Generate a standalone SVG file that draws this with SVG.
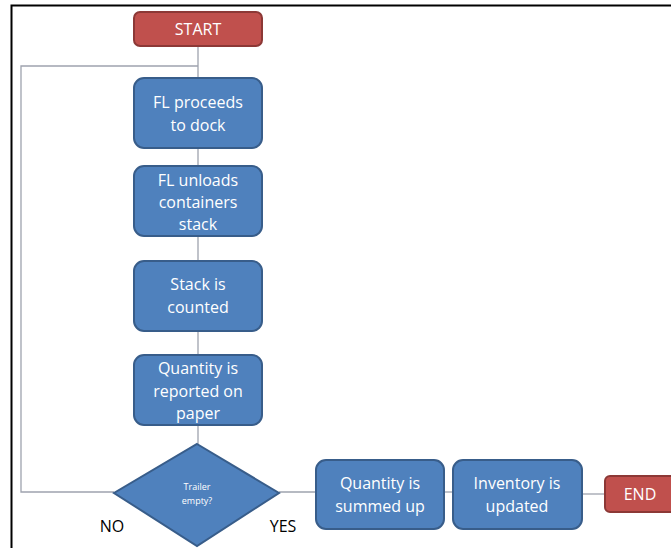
<svg xmlns="http://www.w3.org/2000/svg" width="671" height="548" viewBox="0 0 671 548">
<style>
.box{fill:#4F81BD;stroke:#385D8A;stroke-width:2}
.red{fill:#C0504D;stroke:#8C3836;stroke-width:2}
.t{font-family:"Open Sans","Liberation Sans",sans-serif;font-size:16px;fill:#fff;text-anchor:middle}
.s{font-family:"Open Sans","Liberation Sans",sans-serif;font-size:9px;fill:#fff;text-anchor:middle}
.lbl{font-family:"Open Sans","Liberation Sans",sans-serif;font-size:16px;fill:#000;text-anchor:middle}
.c{fill:none;stroke:#9EA3AE;stroke-width:1.3}
</style>
<rect width="671" height="548" fill="#fff"/>
<path d="M11.5,548 V5.5 H671" fill="none" stroke="#000" stroke-width="2"/>
<g id="connectors">
<path class="c" d="M198,46 V78"/>
<path class="c" d="M198,66 H21 V492 H114"/>
<path class="c" d="M198,148 V166"/>
<path class="c" d="M198,236 V261"/>
<path class="c" d="M198,331 V355"/>
<path class="c" d="M198,425 V444"/>
<path class="c" d="M279,492 H316"/>
<path class="c" d="M444,492 H453"/>
<path class="c" d="M582,494 H605"/>
</g>
<g id="start"><rect class="red" x="134" y="12" width="128" height="34" rx="6"/><text class="t" x="198" y="35">START</text></g>
<g id="n1"><rect class="box" x="134" y="78" width="128" height="70" rx="10"/><text class="t" x="198" y="108">FL proceeds</text><text class="t" x="198" y="131">to dock</text></g>
<g id="n2"><rect class="box" x="134" y="166" width="128" height="70" rx="10"/><text class="t" x="198" y="186">FL unloads</text><text class="t" x="198" y="208">containers</text><text class="t" x="198" y="230">stack</text></g>
<g id="n3"><rect class="box" x="134" y="261" width="128" height="70" rx="10"/><text class="t" x="198" y="290">Stack is</text><text class="t" x="198" y="313">counted</text></g>
<g id="n4"><rect class="box" x="134" y="355" width="128" height="70" rx="10"/><text class="t" x="198" y="374">Quantity is</text><text class="t" x="198" y="397">reported on</text><text class="t" x="198" y="419">paper</text></g>
<g id="decision"><polygon class="box" points="197,444 279,493 197,546 114,493"/><text class="s" x="197" y="490">Trailer</text><text class="s" x="197" y="504">empty?</text></g>
<g id="n5"><rect class="box" x="316" y="460" width="128" height="69" rx="10"/><text class="t" x="380" y="489">Quantity is</text><text class="t" x="380" y="512">summed up</text></g>
<g id="n6"><rect class="box" x="453" y="460" width="129" height="69" rx="10"/><text class="t" x="517" y="489">Inventory is</text><text class="t" x="517" y="512">updated</text></g>
<g id="end"><rect class="red" x="605" y="476" width="70" height="36" rx="5"/><text class="t" x="640" y="500">END</text></g>
<text class="lbl" x="112" y="532">NO</text>
<text class="lbl" x="283" y="532">YES</text>
</svg>
